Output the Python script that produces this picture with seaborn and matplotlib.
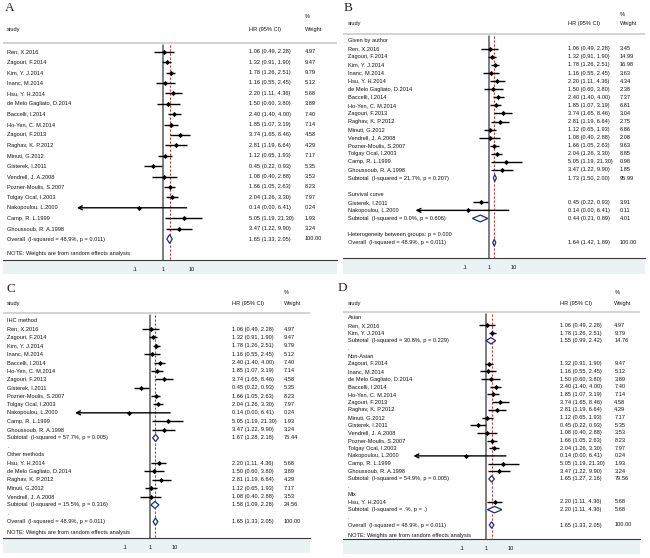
import numpy as np
import pandas as pd
import seaborn as sns
import matplotlib.pyplot as plt
import matplotlib.transforms as mtransforms
from matplotlib.patches import Rectangle
from matplotlib.ticker import NullLocator

# per-study hazard ratios with 95% CI
studies = ["Ren, X.2016", "Zagouri, F.2014", "Kim, Y. J.2014", "Inanc, M.2014",
           "Hsu, Y. H.2014", "de Melo Gagliato, D.2014", "Baccelli, I.2014",
           "Ho-Yen, C. M.2014", "Zagouri, F.2013", "Raghav, K. P.2012", "Minuti, G.2012",
           "Gisterek, I.2011", "Vendrell, J. A.2008", "Pozner-Moulis, S.2007",
           "Tolgay Ocal, I.2003", "Nakopoulou, L.2000", "Camp, R. L.1999",
           "Ghoussoub, R. A.1998"]
hr = [1.06, 1.32, 1.78, 1.16, 2.20, 1.50, 2.40, 1.85, 3.74, 2.81, 1.12, 0.45, 1.08, 1.66,
      2.04, 0.14, 5.05, 3.47]
ci_lo = [0.49, 0.91, 1.26, 0.55, 1.11, 0.60, 1.40, 1.07, 1.65, 1.19, 0.65, 0.22, 0.40, 1.05,
         1.26, 0.00, 1.19, 1.22]
ci_hi = [2.28, 1.90, 2.51, 2.45, 4.36, 3.80, 4.00, 3.19, 8.46, 6.64, 1.93, 0.93, 2.88, 2.63,
         3.30, 6.41, 21.30, 9.90]

overall_txt = "Overall  (I-squared = 48.9%, p = 0.011)"
note_txt = "NOTE: Weights are from random effects analysis"

# A - all studies
weights_a = [4.97, 9.47, 9.79, 5.12, 5.68, 3.89, 7.40, 7.14, 4.58, 4.29, 7.17, 5.35, 3.53,
             8.23, 7.97, 0.24, 1.93, 3.24]
overall_a = [1.65, 1.33, 2.05, 100.00]

# B - how HR was obtained
b_author = ["Ren, X.2016", "Zagouri, F.2014", "Kim, Y. J.2014", "Inanc, M.2014",
            "Hsu, Y. H.2014", "de Melo Gagliato, D.2014", "Baccelli, I.2014",
            "Ho-Yen, C. M.2014", "Zagouri, F.2013", "Raghav, K. P.2012", "Minuti, G.2012",
            "Vendrell, J. A.2008", "Pozner-Moulis, S.2007", "Tolgay Ocal, I.2003",
            "Camp, R. L.1999", "Ghoussoub, R. A.1998"]
b_author_w = [3.45, 14.99, 16.98, 3.63, 4.34, 2.38, 7.37, 6.81, 3.04, 2.75, 6.86, 2.08, 9.63,
              8.85, 0.98, 1.85]
b_author_sub = [1.73, 1.50, 2.00, 95.99]
b_author_het = "Subtotal  (I-squared = 21.7%, p = 0.207)"
b_surv = ["Gisterek, I.2011", "Nakopoulou, L.2000"]
b_surv_w = [3.91, 0.11]
b_surv_sub = [0.44, 0.21, 0.89, 4.01]
b_surv_het = "Subtotal  (I-squared = 0.0%, p = 0.606)"
b_between = "Heterogeneity between groups: p = 0.000"
overall_b = [1.64, 1.42, 1.89, 100.00]

# C - detection method
c_ihc = ["Ren, X.2016", "Zagouri, F.2014", "Kim, Y. J.2014", "Inanc, M.2014",
         "Baccelli, I.2014", "Ho-Yen, C. M.2014", "Zagouri, F.2013", "Gisterek, I.2011",
         "Pozner-Moulis, S.2007", "Tolgay Ocal, I.2003", "Nakopoulou, L.2000",
         "Camp, R. L.1999", "Ghoussoub, R. A.1998"]
c_ihc_w = [4.97, 9.47, 9.79, 5.12, 7.40, 7.14, 4.58, 5.35, 8.23, 7.97, 0.24, 1.93, 3.24]
c_ihc_sub = [1.67, 1.28, 2.18, 75.44]
c_ihc_het = "Subtotal  (I-squared = 57.7%, p = 0.005)"
c_other = ["Hsu, Y. H.2014", "de Melo Gagliato, D.2014", "Raghav, K. P.2012",
           "Minuti, G.2012", "Vendrell, J. A.2008"]
c_other_w = [5.68, 3.89, 4.29, 7.17, 3.53]
c_other_sub = [1.58, 1.09, 2.28, 24.56]
c_other_het = "Subtotal  (I-squared = 15.5%, p = 0.316)"

# D - ethnicity
d_asian = ["Ren, X.2016", "Kim, Y. J.2014"]
d_asian_w = [4.97, 9.79]
d_asian_sub = [1.55, 0.99, 2.42, 14.76]
d_asian_het = "Subtotal  (I-squared = 30.8%, p = 0.229)"
d_non = ["Zagouri, F.2014", "Inanc, M.2014", "de Melo Gagliato, D.2014", "Baccelli, I.2014",
         "Ho-Yen, C. M.2014", "Zagouri, F.2013", "Raghav, K. P.2012", "Minuti, G.2012",
         "Gisterek, I.2011", "Vendrell, J. A.2008", "Pozner-Moulis, S.2007",
         "Tolgay Ocal, I.2003", "Nakopoulou, L.2000", "Camp, R. L.1999",
         "Ghoussoub, R. A.1998"]
d_non_w = [9.47, 5.12, 3.89, 7.40, 7.14, 4.58, 4.29, 7.17, 5.35, 3.53, 8.23, 7.97, 0.24,
           1.93, 3.24]
d_non_sub = [1.65, 1.27, 2.16, 79.56]
d_non_het = "Subtotal  (I-squared = 54.9%, p = 0.005)"
d_mix = ["Hsu, Y. H.2014"]
d_mix_w = [5.68]
d_mix_sub = [2.20, 1.11, 4.36, 5.68]
d_mix_het = "Subtotal  (I-squared = .%, p = .)"

LOW = 0.001   # lower end of plotted CI range, arrow beyond
FS = 4.1
W, H = 650, 558

est = {s: (h, l, u) for s, h, l, u in zip(studies, hr, ci_lo, ci_hi)}


def study_rows(names, weights):
    return [("study", n, *est[n], w) for n, w in zip(names, weights)]


def grouped_rows(groups, blank, extra, overall):
    rows = []
    for title, names, weights, sub, het in groups:
        rows.append(("label", title))
        rows += study_rows(names, weights)
        rows.append(("pooled", het, *sub))
        rows.append(("label", blank))
    rows += [("label", t) for t in extra]
    rows.append(("pooled", overall_txt, *overall))
    return rows


def draw_panel(fig, rows, g, letter, note=True):
    ax = fig.add_axes([g['x0'] / W, 1 - g['yaxis'] / H,
                       (g['x1'] - g['x0']) / W, (g['yaxis'] - g['ytop']) / H])
    sp = (g['last'] - g['first']) / (len(rows) - 1)
    row = lambda px: (px - g['first']) / sp
    col = lambda px: (px - g['x0']) / (g['x1'] - g['x0'])
    tr = mtransforms.blended_transform_factory(ax.transAxes, ax.transData)
    txt = dict(transform=tr, fontsize=FS, va='center', ha='left', color='#111111')

    recs = []
    for i, r in enumerate(rows):
        ax.text(col(g['study_x']), i, r[1], **txt)
        if r[0] == "label":
            continue
        h, l, u, w = r[2:]
        ax.text(col(g['hr_x']), i, f"{h:.2f} ({l:.2f}, {u:.2f})", **txt)
        ax.text(col(g['w_x']), i, f"{w:.2f}", **txt)
        if r[0] == "study":
            recs.append(dict(y=i, hr=h, lo=l, hi=u))
        else:
            d = 0.42
            ax.fill([l, h, u, h], [i, i - d, i, i + d], facecolor='white',
                    edgecolor='#1f2d7a', lw=0.9, zorder=4)
    df = pd.DataFrame(recs)

    inside = df[df.lo >= LOW]
    ax.hlines(inside.y, inside.lo, inside.hi, color='black', lw=1.0, zorder=3)
    for _, r in df[df.lo < LOW].iterrows():
        ax.annotate('', xy=(LOW, r.y), xytext=(r.hi, r.y),
                    arrowprops=dict(arrowstyle='->', lw=1.0, color='black',
                                    shrinkA=0, shrinkB=0, mutation_scale=7))
    sns.scatterplot(data=df, x='hr', y='y', marker='D', s=7, color='black',
                    linewidth=0, ax=ax, legend=False, zorder=5)

    # header
    ax.text(col(g['study_x']), row(g['hdr_y']), 'study', **txt)
    ax.text(col(g['hr_x']), row(g['hdr_y']), 'HR (95% CI)', **txt)
    ax.text(col(g['w_x']), row(g['pct_y']), '%', **txt)
    ax.text(col(g['w_x']), row(g['hdr_y']), 'Weight', **txt)
    ax.axhline(row(g['line_y']), color='#cccccc', lw=1.2)
    if note:
        ax.text(col(g['study_x']), row(g['note_y']), note_txt, **txt)

    ov = rows[-1][2]
    ytop_line, ybot = row(g['line_y']) + 0.15, row(g['yaxis'])
    ax.plot([1, 1], [ytop_line, ybot], color='#5a5a5a', lw=1.1, zorder=2)
    ax.plot([ov, ov], [ytop_line, ybot], color='#b23b3b', lw=0.8, ls=(0, (2, 1.6)), zorder=2)

    ax.set_xscale('log')
    ax.set_xlim(10 ** ((g['x0'] - g['x1px']) / g['dec']), 10 ** ((g['x1'] - g['x1px']) / g['dec']))
    ax.set_ylim(row(g['yaxis']), row(g['ytop']))
    ax.set_xticks([0.1, 1, 10])
    ax.set_xticklabels(['.1', '1', '10'])
    ax.xaxis.set_minor_locator(NullLocator())
    ax.set_yticks([])
    ax.set_xlabel('')
    ax.set_ylabel('')
    for s in ['top', 'left', 'right']:
        ax.spines[s].set_visible(False)
    ax.spines['bottom'].set_color('#3a3a3a')
    ax.spines['bottom'].set_linewidth(0.8)
    ax.tick_params(axis='x', length=2.5, width=0.6, pad=2.5, labelsize=FS, colors='#111111')

    fig.patches.append(Rectangle((g['x0'] / W, 1 - g['strip'] / H), (g['x1'] - g['x0']) / W,
                                 (g['strip'] - g['yaxis']) / H, transform=fig.transFigure,
                                 facecolor='#eaf2f3', edgecolor='none', zorder=-1))
    fig.text(g['lx'] / W, 1 - g['ly'] / H, letter, fontsize=9.5, family='Liberation Serif',
             ha='left', va='center')


sns.set_style("white")
plt.rcParams['font.family'] = ['Liberation Sans', 'DejaVu Sans']

rows_a = study_rows(studies, weights_a) + [("pooled", overall_txt, *overall_a)]
rows_b = grouped_rows([("Given by author", b_author, b_author_w, b_author_sub, b_author_het),
                       ("Survival curve", b_surv, b_surv_w, b_surv_sub, b_surv_het)],
                      "", [b_between], overall_b)
rows_c = grouped_rows([("IHC method", c_ihc, c_ihc_w, c_ihc_sub, c_ihc_het),
                       ("Other methods", c_other, c_other_w, c_other_sub, c_other_het)],
                      ".", [], overall_a)
rows_d = grouped_rows([("Asian", d_asian, d_asian_w, d_asian_sub, d_asian_het),
                       ("Non-Asian", d_non, d_non_w, d_non_sub, d_non_het),
                       ("Mix", d_mix, d_mix_w, d_mix_sub, d_mix_het)],
                      ".", [], overall_a)

geo_a = dict(x0=3, x1=337, ytop=2, yaxis=260, strip=274, first=51.7, last=239,
             x1px=163.3, dec=28.8, study_x=7, hr_x=249, w_x=305, hdr_y=30, pct_y=17,
             line_y=43, note_y=254, lx=5, ly=8)
geo_b = dict(x0=343, x1=645, ytop=2, yaxis=258, strip=274, first=40.7, last=242.7,
             x1px=489, dec=24.5, study_x=347.7, hr_x=568.3, w_x=620, hdr_y=24, pct_y=14,
             line_y=34.3, note_y=0, lx=344, ly=8)
geo_c = dict(x0=3, x1=310, ytop=281, yaxis=538, strip=553, first=320.7, last=521.7,
             x1px=150, dec=25, study_x=7, hr_x=231.7, w_x=284, hdr_y=303, pct_y=293,
             line_y=313.3, note_y=532.7, lx=6, ly=289)
geo_d = dict(x0=343, x1=640, ytop=281, yaxis=539, strip=554, first=317.7, last=525,
             x1px=486.3, dec=24.3, study_x=347.7, hr_x=560, w_x=614.3, hdr_y=304, pct_y=293,
             line_y=312.5, note_y=535, lx=338, ly=288)

fig = plt.figure(figsize=(6.5, 5.58), dpi=100, facecolor='white')
draw_panel(fig, rows_a, geo_a, "A")
draw_panel(fig, rows_b, geo_b, "B", note=False)
draw_panel(fig, rows_c, geo_c, "C")
draw_panel(fig, rows_d, geo_d, "D")
fig.savefig("out.png", dpi=100, facecolor='white')
